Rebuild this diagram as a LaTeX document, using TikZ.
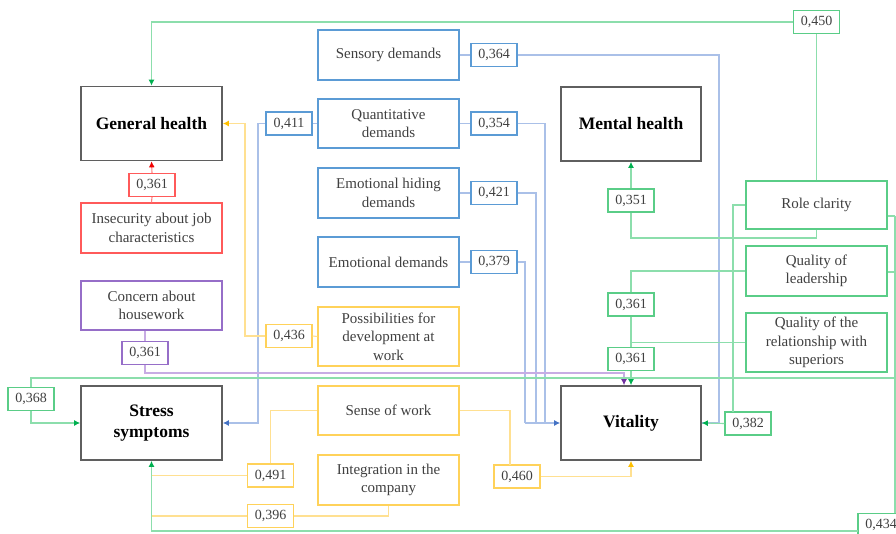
\documentclass[tikz,border=0pt]{standalone}
\usepackage{fontspec}
\setmainfont{Liberation Serif}
\usetikzlibrary{arrows.meta}
\definecolor{mainc}{RGB}{95,95,95}
\definecolor{txt}{RGB}{64,64,64}
\definecolor{bboxc}{RGB}{91,155,213}
\definecolor{blinec}{RGB}{170,192,232}
\definecolor{barrc}{RGB}{68,114,196}
\definecolor{gboxc}{RGB}{90,205,135}
\definecolor{glinec}{RGB}{140,222,172}
\definecolor{garrc}{RGB}{0,176,80}
\definecolor{yboxc}{RGB}{255,210,90}
\definecolor{ylinec}{RGB}{255,224,145}
\definecolor{yarrc}{RGB}{255,192,0}
\definecolor{rboxc}{RGB}{255,90,90}
\definecolor{rlinec}{RGB}{255,130,130}
\definecolor{rarrc}{RGB}{240,0,0}
\definecolor{pboxc}{RGB}{150,110,200}
\definecolor{plinec}{RGB}{200,172,228}
\definecolor{parrc}{RGB}{112,48,160}
\begin{document}
\begin{tikzpicture}[x=1pt,y=-1pt,
  mainbox/.style={draw=mainc, line width=1.7pt, fill=white, minimum width=141pt, minimum height=74pt, inner sep=0pt, align=center, font=\fontsize{17.5}{21}\selectfont\bfseries, text=black},
  lab/.style={line width=1.4pt, fill=white, minimum width=141pt, inner sep=0pt, align=center, font=\fontsize{15}{18.5}\selectfont, text=txt},
  num/.style={line width=1.4pt, fill=white, minimum width=46pt, minimum height=23pt, inner sep=0pt, font=\fontsize{14}{16}\selectfont, text=txt},
  blab/.style={lab, draw=bboxc}, bnum/.style={num, draw=bboxc},
  glab/.style={lab, draw=gboxc}, gnum/.style={num, draw=gboxc},
  ylab/.style={lab, draw=yboxc}, ynum/.style={num, draw=yboxc},
  rlab/.style={lab, draw=rboxc}, rnum/.style={num, draw=rboxc},
  plab/.style={lab, draw=pboxc}, pnum/.style={num, draw=pboxc},
  bl/.style={draw=blinec, line width=1.1pt},
  gl/.style={draw=glinec, line width=1.1pt},
  yl/.style={draw=ylinec, line width=1.1pt},
  rl/.style={draw=rlinec, line width=1.1pt},
  pl/.style={draw=plinec, line width=1.1pt},
  barr/.style={-{Latex[length=6pt,width=6pt,color=barrc]}},
  garr/.style={-{Latex[length=6pt,width=6pt,color=garrc]}},
  yarr/.style={-{Latex[length=6pt,width=6pt,color=yarrc]}},
  rarr/.style={-{Latex[length=6pt,width=6pt,color=rarrc]}},
  parr/.style={-{Latex[length=6pt,width=6pt,color=parrc]}}
]
\useasboundingbox (0,0) rectangle (896,534);
\fill[white] (0,0) rectangle (896,534);
\clip (0,0) rectangle (896,534);

% main outcome boxes
\node[mainbox] (GH) at (151.5,123.5) {General health};
\node[mainbox, minimum width=140pt] (MH) at (631,124) {Mental health};
\node[mainbox] (SS) at (151.5,423) {Stress\\symptoms};
\node[mainbox, minimum width=140pt] (VT) at (631,423) {Vitality};

% blue
\node[blab, minimum height=50pt] (SD) at (388.5,55) {Sensory demands};
\node[blab, minimum height=49pt] (QD) at (388.5,123.5) {Quantitative\\demands};
\node[blab, minimum height=50pt] (EHD) at (388.5,193) {Emotional hiding\\demands};
\node[blab, minimum height=50pt] (ED) at (388.5,262) {Emotional demands};
% yellow
\node[ylab, minimum height=59pt] (PDW) at (388.5,336.5) {Possibilities for\\development at\\work};
\node[ylab, minimum height=49pt] (SW) at (388.5,410.5) {Sense of work};
\node[ylab, minimum height=50pt] (IC) at (388.5,480) {Integration in the\\company};
% red / purple
\node[rlab, minimum height=50pt] (IJC) at (151.5,228) {Insecurity about job\\characteristics};
\node[plab, minimum height=49pt] (CH) at (151.5,305.5) {Concern about\\housework};
% green
\node[glab, minimum height=48pt] (RC) at (816.5,205) {Role clarity};
\node[glab, minimum height=50pt] (QL) at (816.5,271) {Quality of\\leadership};
\node[glab, minimum height=59pt] (QRS) at (816.5,342.5) {Quality of the\\relationship with\\superiors};

% number boxes
\node[bnum] (n364) at (494,55) {0,364};
\node[bnum] (n354) at (494,123.5) {0,354};
\node[bnum] (n421) at (494,193) {0,421};
\node[bnum] (n379) at (494,262) {0,379};
\node[bnum] (n411) at (289,123.5) {0,411};
\node[ynum] (n436) at (289,336) {0,436};
\node[rnum] (n361r) at (152,185) {0,361};
\node[pnum] (n361p) at (145,353) {0,361};
\node[gnum] (n351) at (631,200.5) {0,351};
\node[gnum] (n361a) at (631,304.5) {0,361};
\node[gnum] (n361b) at (631,359) {0,361};
\node[gnum] (n368) at (31,399) {0,368};
\node[gnum] (n382) at (748,423.5) {0,382};
\node[ynum] (n491) at (270.5,475.5) {0,491};
\node[ynum] (n396) at (270.5,516) {0,396};
\node[ynum] (n460) at (517,476.5) {0,460};
\node[gnum] (n450) at (816.5,22) {0,450};
\node[gnum] (n434) at (881,525) {0,434};

% helper coordinates
\coordinate (c238) at (631,238);
\coordinate (rb1) at (895,216);
\coordinate (rb2) at (895,272);
\coordinate (rb3) at (895,378);
\coordinate (c368) at (31,378);
\coordinate (c382) at (733,412);
\coordinate (c434) at (858,531);
\coordinate (b1) at (719,423);
\coordinate (b2) at (545,423);
\coordinate (b3) at (536,423);
\coordinate (b4) at (525,423);
\coordinate (b5) at (258,423);
\coordinate (y1) at (245,123.5);
\coordinate (y2) at (510,465);
\coordinate (p1) at (624,373);

% blue connectors
\draw[bl] (SD.east) -- (n364.west);
\draw[bl] (n364.east) -| (b1) -- (VT.east);
\draw[bl] (QD.east) -- (n354.west);
\draw[bl] (n354.east) -| (b2);
\draw[bl] (EHD.east) -- (n421.west);
\draw[bl] (n421.east) -| (b3);
\draw[bl] (ED.east) -- (n379.west);
\draw[bl] (n379.east) -| (b4);
\draw[bl, barr] (b4) -- (VT.west);
\draw[bl] (QD.west) -- (n411.east);
\draw[bl, barr] (n411.west) -| (b5) -- (SS.east);

% yellow connectors
\draw[yl] (PDW.west) -- (n436.east);
\draw[yl, yarr] (n436.west) -| (y1) -- (GH.east);
\draw[yl] (SW.west) -| (n491.north);
\draw[yl] (n491.west) -- (n491.west -| SS.south);
\draw[yl] (SW.east) -| (y2);
\draw[yl, yarr] (n460.east) -| (VT.south);
\draw[yl] (IC.south) |- (n396.east);
\draw[yl] (n396.west) -- (n396.west -| SS.south);

% red
\draw[rl] (IJC.north) -- (n361r.south);
\draw[rl, rarr] (n361r.north) -- (GH.south);

% purple
\draw[pl] (CH.south -| n361p.north) -- (n361p.north);
\draw[pl, parr] (n361p.south) |- (p1) -- (p1 |- VT.north);

% green
\draw[gl] (RC.north) -- (n450.south);
\draw[gl, garr] (n450.west) -| (GH.north);
\draw[gl] (RC.south) |- (c238) -- (n351.south);
\draw[gl, garr] (n351.north) -- (MH.south);
\draw[gl] (QL.west) -| (n361a.north);
\draw[gl] (n361a.south) -- (n361b.north);
\draw[gl] (QRS.west) -- (QRS.west -| n361a.south);
\draw[gl, garr] (n361b.south) -- (VT.north);
\draw[gl] (rb1 -| RC.east) -- (rb1);
\draw[gl] (rb2 -| QL.east) -- (rb2);
\draw[gl] (rb1) -- (rb1 |- n434.north);
\draw[gl] (rb3) -- (c368) -- (n368.north);
\draw[gl, garr] (n368.south) |- (SS.west);
\draw[gl] (RC.west) -| (c382);
\draw[gl, garr] (n382.west) -- (VT.east);
\draw[gl, garr] (c434) -| (SS.south);
\end{tikzpicture}
\end{document}
